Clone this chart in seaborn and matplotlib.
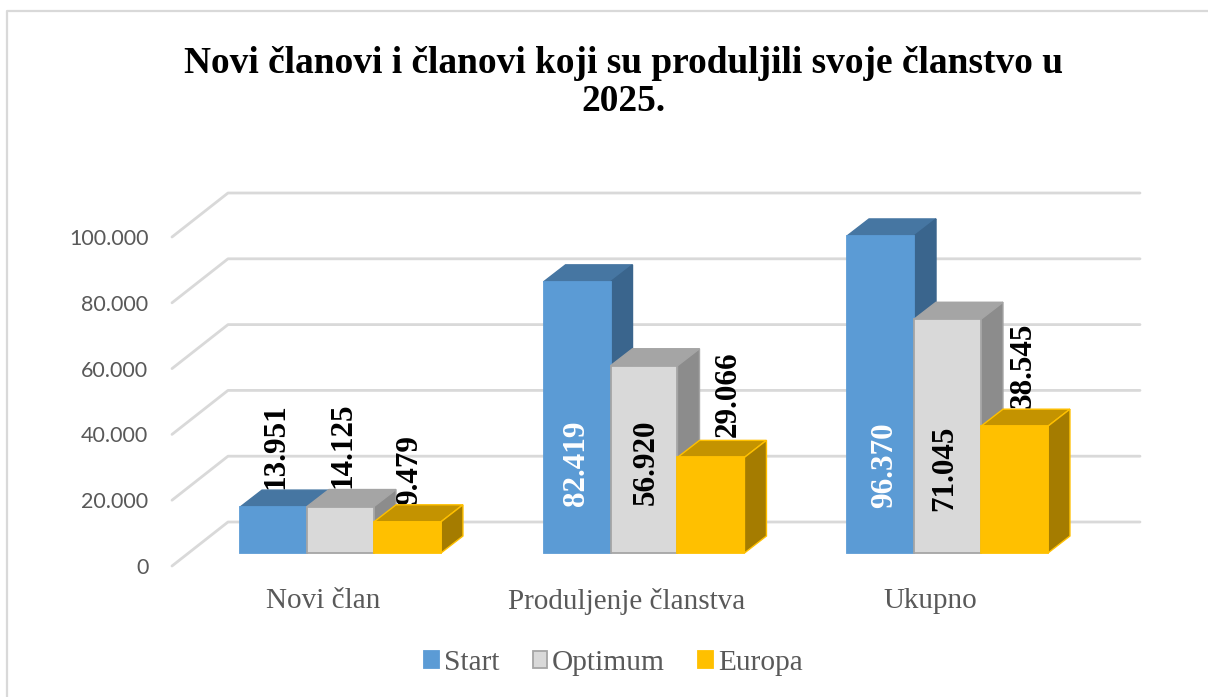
import matplotlib
matplotlib.use("Agg")
import matplotlib.pyplot as plt
import pandas as pd
import seaborn as sns
from matplotlib.lines import Line2D
from matplotlib.patches import Polygon
from matplotlib.transforms import ScaledTranslation

# ---- data ----
categories = ["Novi član", "Produljenje članstva", "Ukupno"]
series_names = ["Start", "Optimum", "Europa"]
start_values = [13951, 82419, 96370]
optimum_values = [14125, 56920, 71045]
europa_values = [9479, 29066, 38545]
y_ticks = [0, 20000, 40000, 60000, 80000, 100000]
y_tick_labels = ["0", "20.000", "40.000", "60.000", "80.000", "100.000"]
title_text = "Novi članovi i članovi koji su produljili svoje članstvo u\n2025."

# ---- style / layout ----
W, H = 1208, 697
SERIF = "Liberation Serif"
front = ["#5B9BD5", "#D9D9D9", "#FFC000"]
top_c = ["#4676A2", "#A5A5A5", "#C49300"]
side_c = ["#3A658D", "#8C8C8C", "#A57C00"]
edge_c = ["#5B9BD5", "#A5A5A5", "#FFC000"]
face_edge_top = ["#4676A2", "#A5A5A5", "#FFC000"]
face_edge_side = ["#3A658D", "#A5A5A5", "#FFC000"]
GRID = "#D9D9D9"
TXT = "#595959"

AX_L, AX_R, AX_BASE, AX_TOP = 172, 1140, 553, 190   # pixel frame of the bar plane
PX_PER_UNIT = 0.00329
PX_PER_CAT = 303.5
CAT0_PX = 340.5
BAR_DX, BAR_DY = 22, 17      # bar depth
FLOOR_DX, FLOOR_DY = 56, 44  # wall depth
FLOOR_DROP = 13              # front floor edge below the bars' base

# label nudges in pixels, per series then category
label_nudge = [[(2, 61), (-0.5, -181), (4.5, -229)],
               [(2.5, 61), (2.5, -97), (-2.5, -149)],
               [(2.5, 52), (17, 63), (8.5, 61)]]
label_colour = [["black", "white", "white"],
                ["black", "black", "black"],
                ["black", "black", "black"]]
inside = [[False, True, True], [False, True, True], [False, False, False]]

df = pd.DataFrame({
    "cat": categories * 3,
    "series": [s for s in series_names for _ in categories],
    "value": start_values + optimum_values + europa_values,
})

sns.set_theme(style="white")
fig = plt.figure(figsize=(W / 100, H / 100), dpi=100, facecolor="white")
ax = fig.add_axes([AX_L / W, 1 - AX_BASE / H, (AX_R - AX_L) / W, (AX_BASE - AX_TOP) / H])
ax.patch.set_alpha(0)

sns.barplot(data=df, x="cat", y="value", hue="series", order=categories,
            hue_order=series_names, palette=front, width=0.662, gap=0,
            saturation=1, ax=ax)

ax.set_xlim((AX_L - CAT0_PX) / PX_PER_CAT, (AX_R - CAT0_PX) / PX_PER_CAT)
ax.set_ylim(0, (AX_BASE - AX_TOP) / PX_PER_UNIT)
sns.despine(ax=ax, left=True, bottom=True, top=True, right=True)
ax.set_xlabel("")
ax.set_ylabel("")


def dx(px):
    return px / PX_PER_CAT


def dy(px):
    return px / PX_PER_UNIT


# walls: gridlines on back wall and diagonals on the side wall
x_left = ax.get_xlim()[0]
x_right = ax.get_xlim()[1]
for t in y_ticks:
    y0 = t - dy(FLOOR_DROP)
    ax.plot([x_left, x_left + dx(FLOOR_DX), x_right],
            [y0, y0 + dy(FLOOR_DY), y0 + dy(FLOOR_DY)],
            color=GRID, lw=2.0, clip_on=False, zorder=1, solid_joinstyle="round")

# bars with oblique faces
z = 3
n_cat = len(categories)
for c in range(n_cat):
    for s, cont in enumerate(ax.containers):
        bar = cont[c]
        x0, w, h = bar.get_x(), bar.get_width(), bar.get_height()
        x1 = x0 + w
        bar.set_edgecolor(edge_c[s])
        bar.set_linewidth(1.3)
        bar.set_clip_on(False)
        bar.set_zorder(z + 0.3)
        top = Polygon([(x0, h), (x0 + dx(BAR_DX), h + dy(BAR_DY)),
                       (x1 + dx(BAR_DX), h + dy(BAR_DY)), (x1, h)],
                      facecolor=top_c[s], edgecolor=face_edge_top[s], lw=1.0,
                      clip_on=False, zorder=z + 0.2)
        side = Polygon([(x1, 0), (x1 + dx(BAR_DX), dy(BAR_DY)),
                        (x1 + dx(BAR_DX), h + dy(BAR_DY)), (x1, h)],
                       facecolor=side_c[s], edgecolor=face_edge_side[s], lw=1.0,
                       clip_on=False, zorder=z + 0.2)
        ax.add_patch(top)
        ax.add_patch(side)
        nx, ny = label_nudge[s][c]
        ax.annotate(f"{int(h):,}".replace(",", "."),
                    (x0 + w / 2, h), xytext=(nx, ny), textcoords="offset pixels",
                    rotation=90, ha="center", va="center",
                    family=SERIF, weight="bold", fontsize=22.4,
                    color=label_colour[s][c], annotation_clip=False,
                    zorder=50 if inside[s][c] else z)
        z += 1

# axis labels
ax.set_yticks(y_ticks, y_tick_labels)
ax.set_xticks(range(n_cat), categories)
ax.tick_params(axis="both", length=0)
ax.tick_params(axis="y", pad=17)
ax.tick_params(axis="x", pad=25)
for lab in ax.get_yticklabels():
    lab.set_family("Lato")
    lab.set_fontsize(15.5)
    lab.set_color(TXT)
    lab.set_transform(lab.get_transform() + ScaledTranslation(0, -13 / 100, fig.dpi_scale_trans))
for lab in ax.get_xticklabels():
    lab.set_family(SERIF)
    lab.set_fontsize(21)
    lab.set_color(TXT)
    lab.set_transform(lab.get_transform() + ScaledTranslation(-17.5 / 100, 0, fig.dpi_scale_trans))

# legend
sns.move_legend(ax, "center", bbox_to_anchor=(613.5 / W, 1 - 663 / H),
                bbox_transform=fig.transFigure, ncols=3, frameon=False, title=None,
                prop={"family": SERIF, "size": 21.2}, handlelength=0.5, handleheight=0.5,
                handletextpad=0.16, columnspacing=1.13, borderpad=0, borderaxespad=0)
leg = ax.get_legend()
for s, (h, t) in enumerate(zip(leg.get_patches(), leg.get_texts())):
    h.set_edgecolor(edge_c[s])
    h.set_linewidth(1.3)
    t.set_color(TXT)

fig.text(623 / W, 1 - 82.5 / H, title_text, ha="center", va="center", family=SERIF,
         weight="bold", fontsize=26.9, color="black", linespacing=1.14)

# chart-area border
fig.add_artist(Line2D([6.5 / W, 6.5 / W, 1], [0, 1 - 10.5 / H, 1 - 10.5 / H],
                      color=GRID, lw=1.6, transform=fig.transFigure))

fig.savefig("out.png", dpi=100)
